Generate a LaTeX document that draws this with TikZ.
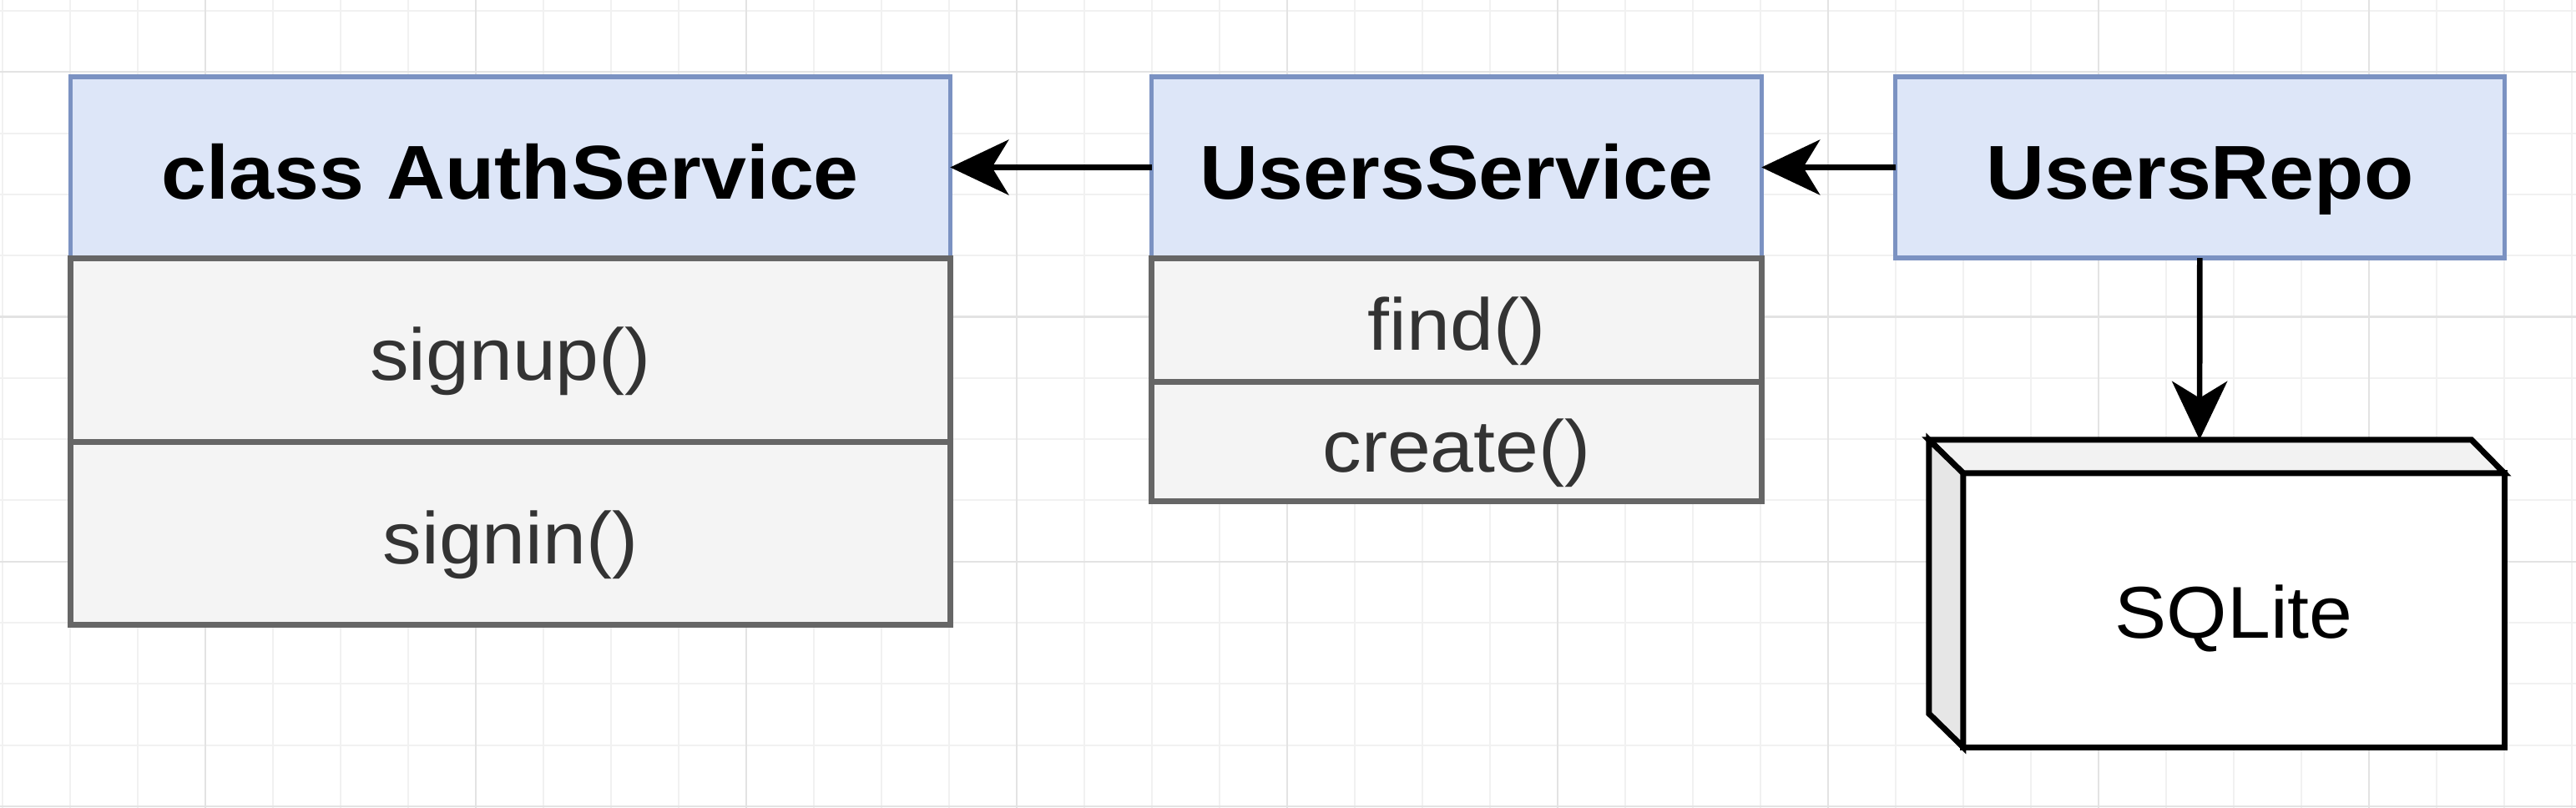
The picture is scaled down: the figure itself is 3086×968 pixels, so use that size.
\documentclass[tikz,border=0pt]{standalone}
\usepackage{fontspec}
\setmainfont{Liberation Sans}[FakeStretch=1.06]
\usetikzlibrary{positioning}
\usetikzlibrary{arrows.meta}

\definecolor{headfill}{HTML}{DDE6F8}
\definecolor{headline}{HTML}{7B92C2}
\definecolor{rowfill}{HTML}{F4F4F4}
\definecolor{rowline}{HTML}{666666}
\definecolor{rowtext}{HTML}{333333}
\definecolor{gridminor}{HTML}{F1F1F1}
\definecolor{gridmajor}{HTML}{E3E3E3}
\definecolor{dbtopfill}{HTML}{F2F2F2}
\definecolor{dbsidefill}{HTML}{E6E6E6}

\begin{document}
\begin{tikzpicture}[x=0.01cm,y=-0.01cm,
    classhead/.style={rectangle,draw=headline,fill=headfill,line width=1.5pt,
        outer sep=0pt,inner sep=0pt,text height=0.75cm,text depth=0pt,
        font=\fontsize{26}{30}\selectfont\bfseries},
    method/.style={rectangle,draw=rowline,fill=rowfill,line width=2pt,
        outer sep=0pt,inner sep=0pt,text=rowtext,text height=0.73cm,text depth=0pt,
        font=\fontsize{25}{30}\selectfont},
    dbface/.style={draw=black,line width=2pt,line join=miter},
    link/.style={line width=1.9pt,-{Stealth[length=0.7cm,width=0.66cm,inset=0.2cm]}}]
\useasboundingbox (0,0) rectangle (3086,968);
\fill[white] (0,0) rectangle (3086,968);

\def\gx{81}
\def\gy{73.3}
\foreach \i in {0,...,38}{
    \draw[gridminor,line width=0.6pt] ({3+\gx*\i},0) -- ({3+\gx*\i},968);
}
\foreach \i in {0,...,13}{
    \draw[gridminor,line width=0.6pt] (0,{13+\gy*\i}) -- (3086,{13+\gy*\i});
}
\foreach \i in {0,...,8}{
    \draw[gridmajor,line width=0.6pt] ({246+4*\gx*\i},0) -- ({246+4*\gx*\i},968);
}
\foreach \i in {0,...,3}{
    \draw[gridmajor,line width=0.6pt] (0,{86.3+4*\gy*\i}) -- (3086,{86.3+4*\gy*\i});
}

\node[classhead,minimum width=10.53cm,minimum height=2.17cm]
    (auth) at (611.5,200.5) {class AuthService};
\node[method,minimum width=10.53cm,minimum height=2.2cm,below=0pt of auth]
    (signup) {signup()};
\node[method,minimum width=10.53cm,minimum height=2.19cm,below=0pt of signup]
    (signin) {signin()};

\node[classhead,minimum width=7.3cm,minimum height=2.17cm]
    (usersvc) at (1745,200.5) {UsersService};
\node[method,minimum width=7.3cm,minimum height=1.48cm,below=0pt of usersvc]
    (find) {find()};
\node[method,minimum width=7.3cm,minimum height=1.43cm,below=0pt of find]
    (create) {create()};

\node[classhead,minimum width=7.29cm,minimum height=2.17cm]
    (repo) at (2635.5,200.5) {UsersRepo};

\node[draw=black,fill=white,line width=2pt,outer sep=0pt,inner sep=0pt,
    minimum width=6.48cm,minimum height=3.28cm,text height=0.66cm,text depth=0pt,
    font=\fontsize{25}{30}\selectfont]
    (sqlite) at (2676,731) {SQLite};
\draw[dbface,fill=dbtopfill] (sqlite.north west) -- ++(-41,-40) coordinate (dbback)
    -- ++(650,0) -- (sqlite.north east) -- cycle;
\draw[dbface,fill=dbsidefill] (sqlite.north west) -- (dbback)
    -- ++(0,328) -- (sqlite.south west) -- cycle;
\path (sqlite.north) ++(-41,-40) coordinate (dbtop);

\draw[link] (usersvc) -- (auth);
\draw[link] (repo) -- (usersvc);
\draw[link] (repo) -- (dbtop);
\end{tikzpicture}
\end{document}
